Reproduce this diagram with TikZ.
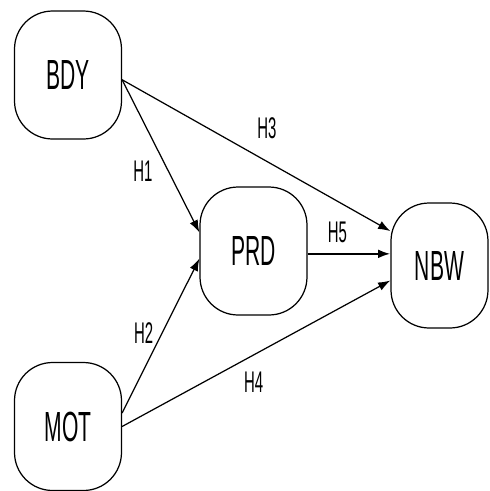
\documentclass[tikz,border=0pt]{standalone}
\usepackage{fontspec}
\newfontfamily\pathfont[FakeStretch=0.5]{Liberation Sans}
\usetikzlibrary{arrows.meta}

\begin{document}
\begin{tikzpicture}[x=0.02cm,y=-0.02cm]
\tikzstyle{construct}=[draw, rectangle, rounded corners=0.76cm, line width=0.7pt, minimum width=2.14cm, minimum height=2.56cm, font=\pathfont\fontsize{24pt}{27pt}\selectfont]
\tikzstyle{hyp}=[line width=0.7pt, -{Latex[length=7pt,width=5pt]}]
\tikzstyle{hlabel}=[inner sep=0pt, font=\pathfont\fontsize{17pt}{20pt}\selectfont]

\useasboundingbox (0,0) rectangle (490,491);

\node (BDY) at (68,75) [construct] {BDY};
\node (MOT) at (68,426.5) [construct] {MOT};
\node (PRD) at (253.5,251) [construct] {PRD};
\node (NBW) at (439.5,265.5) [construct, minimum width=1.94cm, minimum height=2.5cm] {NBW};

\draw[hyp] (BDY.-5) -- (PRD.161) node [hlabel, pos=0.6, left=0.31cm] (h1) {H1};
\draw[hyp] (MOT.14) -- (PRD.188) node [hlabel, pos=0.52, left=0.17cm] (h2) {H2};
\draw[hyp] (BDY.-5) -- (NBW.145) node [hlabel, pos=0.54, above=0.44cm] (h3) {H3};
\draw[hyp] (MOT.east) -- (NBW.197) node [hlabel, pos=0.49, below=0.33cm] (h4) {H4};
% thicker path
\draw[hyp, line width=1.2pt] (PRD.-3) -- (PRD.-3 -| NBW.west) node [hlabel, pos=0.36, above=0.2cm] (h5) {H5};

\end{tikzpicture}
\end{document}
